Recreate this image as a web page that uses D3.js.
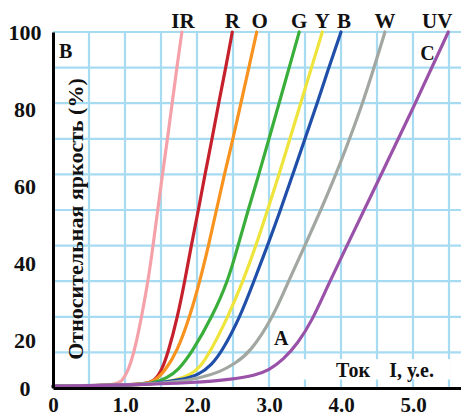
<!DOCTYPE html>
<html><head><meta charset="utf-8">
<script src="https://cdn.jsdelivr.net/npm/d3@7"></script>
<style>
html,body{margin:0;padding:0;background:#fff;}
text{font-family:"Liberation Serif","Times New Roman",serif;font-weight:bold;fill:#111;}
</style></head>
<body><svg id="c" width="461" height="416"></svg>
<script>
// ---- data (current I, relative brightness %) ----
const seriesNames = ["IR","R","O","G","Y","B","W","UV"];
const seriesColors = ["#f4a1a9","#c5202c","#f7931e","#3aae3a","#eee43c","#1f4fa9","#a2a8a1","#9a52a9"];
const IR = [[0,0.5],[0.6,0.6],[0.88,1],[0.96,2],[1.02,4],[1.08,7],[1.15,12],[1.24,21],[1.32,30],[1.39,40],[1.455,50],[1.52,60],[1.59,70],[1.655,80],[1.72,90],[1.79,100]];
const R  = [[0,0.5],[1.0,0.8],[1.3,1.2],[1.42,2.2],[1.51,5],[1.6,10],[1.73,20],[1.83,30],[1.92,40],[2.02,50],[2.11,60],[2.21,70],[2.30,80],[2.40,90],[2.49,100]];
const O  = [[0,0.5],[1.0,0.8],[1.3,1.2],[1.42,2],[1.56,5],[1.72,10],[1.9,20],[2.04,30],[2.16,40],[2.27,50],[2.38,60],[2.5,70],[2.61,80],[2.72,90],[2.83,100]];
const G  = [[0,0.5],[1.0,0.8],[1.4,1.2],[1.58,2.8],[1.74,5],[1.93,10],[2.21,20],[2.43,30],[2.57,40],[2.71,50],[2.86,60],[3.0,70],[3.14,80],[3.28,90],[3.42,100]];
const Y  = [[0,0.5],[1.0,0.8],[1.4,1.1],[1.7,2.2],[1.9,3.6],[2.05,6],[2.18,10],[2.43,20],[2.64,30],[2.82,40],[2.98,50],[3.14,60],[3.29,70],[3.44,80],[3.59,90],[3.74,100]];
const B  = [[0,0.5],[1.0,0.8],[1.35,1.1],[1.76,2.2],[2.04,3.8],[2.2,6.5],[2.34,10],[2.6,20],[2.79,30],[2.98,40],[3.16,50],[3.33,60],[3.5,70],[3.67,80],[3.83,90],[4.0,100]];
const W  = [[0,0.5],[1.3,1],[1.7,1.6],[2.04,2.8],[2.32,4.5],[2.52,6.8],[2.74,10],[3.06,20],[3.27,30],[3.5,40],[3.72,50],[3.93,60],[4.12,70],[4.3,80],[4.46,90],[4.61,100]];
const UV = [[0,0.5],[1.0,0.8],[2.0,1.5],[2.5,2.5],[2.8,3.5],[3.0,5],[3.2,8],[3.4,12.5],[3.6,19],[3.8,28],[4.0,36.5],[4.5,57.5],[5.0,78.5],[5.49,100]];
const seriesData = [IR,R,O,G,Y,B,W,UV];
const xTicks = [0,1,2,3,4,5];
const xTickLabels = ["0","1.0","2.0","3.0","4.0","5.0"];
const yTickLabels = ["0","20","40","60","80","100"];
const yTickValues = [0,20,40,60,80,100];
const yTitle = "Относительная яркость (%)";
const xTitle1 = "Ток", xTitle2 = "I, у.е.";
const regionLabels = [["A",3.07,12.1],["B",0.085,92.7],["C",5.1,92.1]];

// ---- layout ----
const svg = d3.select("#c");
const W_ = 461, H_ = 416;
const x = d3.scaleLinear().domain([0, 408/72]).range([53, 461]);
const y = d3.scaleLinear().domain([0, 100]).range([388, 32]);
// tick-label placement (labels in the source are spaced slightly wider than the grid)
const yLab = d3.scaleLinear().domain([20, 100]).range([340, 32]);

// grid
const grid = svg.append("g").attr("stroke", "#a6dbf1").attr("stroke-width", 2.2);
grid.selectAll("line.v").data(d3.range(0.5, 5.51, 0.5)).join("line")
  .attr("x1", d => x(d)).attr("x2", d => x(d)).attr("y1", y(0)).attr("y2", y(100));
grid.selectAll("line.h").data(d3.range(10, 100.1, 10)).join("line")
  .attr("x1", x(0)).attr("x2", W_).attr("y1", d => y(d)).attr("y2", d => y(d));

// white box behind x title
svg.append("rect").attr("x", x(3.26)).attr("y", y(8.1)).attr("width", x(5.52) - x(3.26)).attr("height", y(2.4) - y(8.1)).attr("fill", "#fff");

// curves
const line = d3.line().x(d => x(d[0])).y(d => y(d[1])).curve(d3.curveBasis);
svg.append("g").selectAll("path").data(seriesData).join("path")
  .attr("d", line).attr("fill", "none")
  .attr("stroke", (d, i) => seriesColors[i]).attr("stroke-width", 3.2)
  .attr("stroke-linejoin", "round").attr("stroke-linecap", "round");

// axes
const xAxis = d3.axisBottom(x).tickValues(xTicks).tickSize(0).tickPadding(10)
  .tickFormat((d, i) => xTickLabels[i]);
const gx = svg.append("g").attr("transform", `translate(0,${y(0)})`).call(xAxis);
gx.select(".domain").attr("stroke", "#000").attr("stroke-width", 3);
gx.selectAll("text").style("font-family", '"Liberation Serif","Times New Roman",serif')
  .style("font-weight", "bold").style("font-size", "21px").attr("fill", "#111").attr("dy", "0.66em");
const yAxis = d3.axisLeft(y).tickValues([]).tickSize(0);
const gy = svg.append("g").attr("transform", `translate(${x(0)},0)`).call(yAxis);
gy.select(".domain").attr("stroke", "#000").attr("stroke-width", 3);

svg.append("g").selectAll("text").data(yTickValues).join("text")
  .attr("x", 25).attr("y", d => d === 0 ? y(0) : yLab(d)).attr("dy", "0.35em")
  .attr("text-anchor", "middle").style("font-size", "22px")
  .text((d, i) => yTickLabels[i]);

// y title
svg.append("text").attr("transform", `translate(83,${(y(0)+y(100))/2 + 9}) rotate(-90)`)
  .attr("text-anchor", "middle").style("font-size", "22px").text(yTitle);

// x title
svg.append("text").attr("x", x(3.93)).attr("y", y(3.1)).style("font-size", "20px").text(xTitle1);
svg.append("text").attr("x", x(4.67)).attr("y", y(3.1)).style("font-size", "20px").text(xTitle2);

// series labels at top
const labelX = [1.79, 2.49, 2.83, 3.42, 3.74, 4.0, 4.61, 5.49];
const labelShift = [1, 0, 3, 0, 0, 3, 0, -11];
svg.append("g").selectAll("text").data(seriesNames).join("text")
  .attr("x", (d, i) => x(labelX[i]) + labelShift[i]).attr("y", 28)
  .attr("text-anchor", "middle").style("font-size", "21px").text(d => d);

// region labels
svg.append("g").selectAll("text").data(regionLabels).join("text")
  .attr("x", d => x(d[1])).attr("y", d => y(d[2]))
  .style("font-size", "20px").text(d => d[0]);
</script></body></html>
